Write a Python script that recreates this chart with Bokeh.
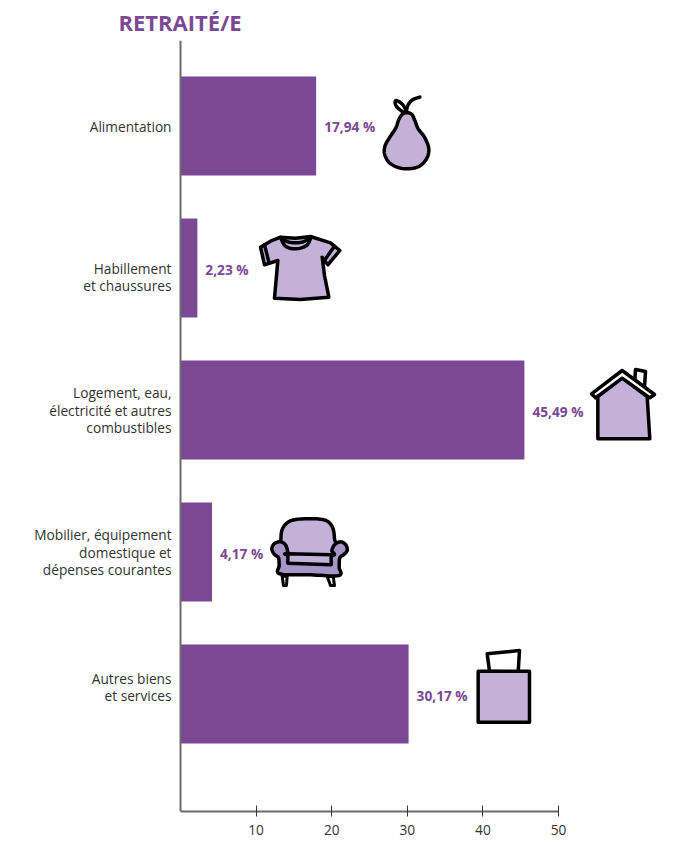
import numpy as np
from bokeh.embed import file_html
from bokeh.resources import INLINE
from bokeh.plotting import figure
from bokeh.models import Range1d, FixedTicker, Title, ColumnDataSource, Span
from bokeh.core.properties import value

categories = ["Alimentation", "Habillement\net chaussures",
              "Logement, eau,\nélectricité et autres\ncombustibles",
              "Mobilier, équipement\ndomestique et\ndépenses courantes",
              "Autres biens\net services"]
shares = [17.94, 2.23, 45.49, 4.17, 30.17]
share_labels = ["17,94 %", "2,23 %", "45,49 %", "4,17 %", "30,17 %"]
x_ticks = [10, 20, 30, 40, 50]
title_text = "RETRAITÉ/E"

PURPLE = "#7b4896"
LIGHT = "#c3b1d9"
MID = "#a795c7"
INK = "#000000"
FONT = "Open Sans"

positions = list(range(len(categories)))
p = figure(width=669, height=841, output_backend="svg", toolbar_location=None,
           x_range=Range1d(-23.81, 64.68), y_range=Range1d(4.827, -0.602),
           y_axis_location=None,
           min_border_left=0, min_border_right=0, min_border_top=40, min_border_bottom=30,
           outline_line_color=None)
p.grid.visible = False
p.background_fill_color = "#ffffff"

# ranges in reference pixels, for the decorative icons
p.extra_x_ranges["px"] = Range1d(0, 669)
p.extra_y_ranges["px"] = Range1d(811, 40)

p.title = Title(text=title_text, align="left", offset=118, text_color=PURPLE,
                text_font=FONT, text_font_size="22px", text_font_style="bold", standoff=7)

# the source chart does not centre every category label on its bar
cat_shift = [1, 9, 0, 0, -7]
src = ColumnDataSource(dict(y=positions, share=shares, label=share_labels, cat=categories,
                            zero=[0] * len(shares), shift=cat_shift))
p.hbar(y="y", left=0, right="share", height=0.697, source=src, fill_color=PURPLE, line_color=None)
p.text(x="share", y="y", text="label", source=src, x_offset=8, y_offset=1, text_align="left", text_baseline="middle",
       text_color=PURPLE, text_font=value(FONT), text_font_size="13.7px", text_font_style="bold")
p.text(x="zero", y="y", text="cat", source=src, x_offset=-9, y_offset="shift", text_align="right", text_baseline="middle",
       text_color="#333333", text_font=value(FONT), text_font_size="13.7px", text_line_height=0.92)

ax = p.xaxis[0]
ax.ticker = FixedTicker(ticks=x_ticks)
ax.bounds = (0, 50)
ax.axis_line_color = "#6a6a6a"; ax.axis_line_width = 2
ax.major_tick_in = 6; ax.major_tick_out = 5; ax.major_tick_line_color = "#333333"
ax.minor_tick_line_color = None
ax.major_label_text_font = FONT; ax.major_label_text_font_size = "13.7px"
ax.major_label_text_color = "#333333"; ax.major_label_standoff = 8

p.add_layout(Span(location=0, dimension="height", line_color="#6a6a6a", line_width=2))


def smooth(pts, closed=True, n=10):
    a = np.array(pts, float)
    if closed:
        a = np.vstack([a[-1], a, a[0], a[1]])
    else:
        a = np.vstack([a[0], a, a[-1]])
    out = []
    for i in range(1, len(a) - 2):
        p0, p1, p2, p3 = a[i - 1], a[i], a[i + 1], a[i + 2]
        for t in np.linspace(0, 1, n, endpoint=False):
            out.append(0.5 * (2 * p1 + (p2 - p0) * t + (2 * p0 - 5 * p1 + 4 * p2 - p3) * t ** 2
                              + (3 * p1 - p0 - 3 * p2 + p3) * t ** 3))
    if not closed:
        out.append(a[-2])
    return np.array(out)


def shape(origin, pts, fill=None, curve=False, closed=True, width=3.5):
    a = smooth(pts, closed) if curve else np.array(pts, float)
    xs = origin[0] + a[:, 0] / 3
    ys = origin[1] + a[:, 1] / 3
    kw = dict(x_range_name="px", y_range_name="px", line_color=INK, line_width=width,
              line_join="round", line_cap="round")
    if closed:
        p.patch(xs, ys, fill_color=fill if fill else "#ffffff", **kw)
    else:
        p.line(xs, ys, **kw)


# pear
o = (370, 90)
shape(o, [(105, 68), (85, 55), (75, 42), (76, 30), (92, 38), (103, 52)], fill="#ffffff", curve=True)
shape(o, [(107, 66), (112, 45), (126, 28), (148, 20)], curve=True, closed=False)
shape(o, [(100, 68), (86, 85), (76, 112), (58, 140), (44, 165), (42, 190), (55, 215), (80, 230), (110, 235),
          (145, 228), (168, 205), (175, 175), (162, 140), (143, 115), (133, 90), (122, 70)], fill=LIGHT, curve=True)

# t-shirt
o = (250, 225)
shape(o, [(90, 35), (60, 47), (30, 65), (42, 118), (82, 105), (72, 218), (150, 222), (235, 215), (222, 150), (215, 95),
          (232, 118), (268, 75), (240, 52), (180, 33), (135, 38)], fill=LIGHT)
shape(o, [(90, 36), (105, 62), (135, 70), (168, 60), (182, 35)], curve=True, closed=False)
shape(o, [(90, 36), (110, 48), (135, 52), (160, 48), (182, 35)], curve=True, closed=False)
shape(o, [(42, 58), (56, 113)], closed=False)
shape(o, [(252, 62), (222, 104)], closed=False)

# house
o = (580, 360)
shape(o, [(163, 60), (165, 27), (195, 33), (192, 80)], fill="#ffffff")
shape(o, [(52, 108), (125, 52), (200, 108), (208, 235), (52, 235)], fill=LIGHT)
shape(o, [(125, 30), (33, 100), (45, 112), (125, 53), (208, 112), (222, 102)], fill="#ffffff")

# armchair
o = (260, 510)
shape(o, [(62, 135), (61, 90), (66, 55), (88, 32), (130, 25), (190, 28), (215, 48), (222, 85), (222, 135)], fill=LIGHT, curve=True)
shape(o, [(65, 197), (69, 225), (78, 225), (80, 197)], fill="#ffffff", width=3)
shape(o, [(200, 197), (210, 225), (222, 225), (218, 197)], fill="#ffffff", width=3)
shape(o, [(34, 115), (42, 99), (60, 94), (75, 103), (82, 125), (82, 132), (212, 135), (214, 120), (222, 103),
          (240, 94), (256, 103), (260, 120), (250, 132), (238, 142), (236, 170), (235, 195), (150, 193),
          (58, 190), (56, 165), (54, 142), (42, 132)], fill=MID, curve=True)
shape(o, [(82, 130), (212, 133), (212, 163), (82, 158)], fill=LIGHT)

# box
o = (465, 640)
shape(o, [(72, 92), (65, 40), (162, 30), (158, 95)], fill="#ffffff")
shape(o, [(38, 92), (192, 92), (192, 245), (38, 245)], fill=LIGHT)

open("out.html", "w").write(file_html(p, INLINE))
